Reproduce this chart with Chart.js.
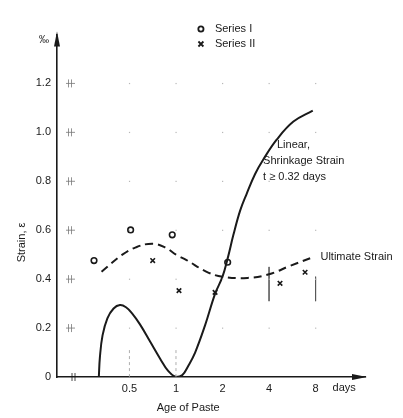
<!DOCTYPE html>
<html>
<head>
<meta charset="utf-8">
<script src="https://cdn.jsdelivr.net/npm/chart.js@4.4.1/dist/chart.umd.min.js"></script>
<style>
  body { margin: 0; background: #fff; }
  #wrap { width: 403px; height: 418px; }
</style>
</head>
<body>
<div id="wrap"><canvas id="grafico" width="403" height="418"></canvas></div>
<script>
// ticks do eixo x (dias, escala log2)
const diasTicks = [0.5, 1, 2, 4, 8];
const strainTicks = [0, 0.2, 0.4, 0.6, 0.8, 1.0, 1.2];

// curva continua - Linear Shrinkage Strain
const linearT = [0.317, 0.322, 0.335, 0.36, 0.395, 0.434, 0.475, 0.52, 0.585, 0.68, 0.79, 0.89, 1.0, 1.1, 1.2, 1.33, 1.54, 1.79, 2.0, 2.17, 2.35, 2.6, 2.87, 3.25, 3.68, 4.48, 5.75, 7.67];
const linearS = [0, 0.08, 0.17, 0.24, 0.28, 0.294, 0.285, 0.26, 0.215, 0.145, 0.075, 0.025, 0, 0.008, 0.045, 0.10, 0.21, 0.34, 0.41, 0.49, 0.58, 0.68, 0.75, 0.83, 0.89, 0.97, 1.044, 1.089];

// curva tracejada - Ultimate Strain
const ultT = [0.33, 0.45, 0.55, 0.70, 0.85, 1.0, 1.17, 1.58, 2.0, 2.9, 4.0, 5.5, 7.7];
const ultS = [0.43, 0.50, 0.53, 0.545, 0.53, 0.50, 0.478, 0.43, 0.41, 0.405, 0.42, 0.455, 0.49];

// pontos medidos
const serie1T = [0.295, 0.509, 0.946, 2.16];
const serie1S = [0.476, 0.601, 0.581, 0.469];
const serie2T = [0.707, 1.046, 1.79, 4.71, 6.84];
const serie2S = [0.476, 0.353, 0.346, 0.383, 0.428];

// pequenos tracos verticais (faixa) em 4 e 8 dias
const faixaT = [4, 4, null, 8, 8];
const faixaS = [0.45, 0.31, null, 0.41, 0.31];

function juntar(xs, ys) {
    let out = [];
    for (let i = 0; i < xs.length; i++) {
        out.push({ x: xs[i], y: ys[i] });
    }
    return out;
}

const fonte = '"Liberation Sans", "DejaVu Sans", sans-serif';
const tinta = '#1a1a1a';

// desenha setas, marcas, textos e legenda
const extras = {
    id: 'extras',
    afterDraw(chart) {
        const ctx = chart.ctx;
        const xs = chart.scales.x;
        const ys = chart.scales.y;
        const area = chart.chartArea;
        ctx.save();

        // pontinhos da grade
        ctx.fillStyle = '#b8b8b8';
        for (const t of diasTicks) {
            for (const s of strainTicks) {
                if (s == 0) continue;
                ctx.fillRect(xs.getPixelForValue(t) - 0.5, ys.getPixelForValue(s) - 0.5, 1.2, 1.2);
            }
        }

        // marcas de quebra perto do eixo y
        ctx.strokeStyle = '#777';
        ctx.lineWidth = 0.8;
        const xq = area.left + 13;
        for (const s of strainTicks) {
            if (s == 0) continue;
            const py = ys.getPixelForValue(s);
            ctx.beginPath();
            ctx.moveTo(xq - 1.5, py - 4); ctx.lineTo(xq - 1.5, py + 4);
            ctx.moveTo(xq + 1.5, py - 4); ctx.lineTo(xq + 1.5, py + 4);
            ctx.moveTo(xq - 4, py); ctx.lineTo(xq + 5, py);
            ctx.stroke();
        }
        // quebra no eixo x
        ctx.strokeStyle = tinta;
        ctx.beginPath();
        ctx.moveTo(area.left + 15, area.bottom - 4); ctx.lineTo(area.left + 15, area.bottom + 4);
        ctx.moveTo(area.left + 18, area.bottom - 4); ctx.lineTo(area.left + 18, area.bottom + 4);
        ctx.stroke();

        // tracejado vertical em 0.5 e 1
        ctx.strokeStyle = '#999';
        ctx.setLineDash([3, 3]);
        for (const t of [0.5, 1]) {
            const px = xs.getPixelForValue(t);
            ctx.beginPath();
            ctx.moveTo(px, ys.getPixelForValue(0.11));
            ctx.lineTo(px, area.bottom);
            ctx.stroke();
        }
        ctx.setLineDash([]);

        // setas dos eixos
        ctx.fillStyle = tinta;
        ctx.beginPath();
        ctx.moveTo(area.left, area.top - 3);
        ctx.lineTo(area.left - 3, area.top + 12);
        ctx.lineTo(area.left + 3, area.top + 12);
        ctx.closePath();
        ctx.fill();
        ctx.beginPath();
        ctx.moveTo(area.right + 2, area.bottom);
        ctx.lineTo(area.right - 13, area.bottom - 3);
        ctx.lineTo(area.right - 13, area.bottom + 3);
        ctx.closePath();
        ctx.fill();

        // textos
        ctx.fillStyle = tinta;
        ctx.textBaseline = 'middle';
        ctx.font = '10px ' + fonte;
        ctx.textAlign = 'right';
        ctx.fillText('‰', area.left - 8, area.top + 6);

        ctx.font = '11px ' + fonte;
        ctx.textAlign = 'left';
        ctx.fillText('days', xs.getPixelForValue(8) + 17, area.bottom + 11);
        ctx.textAlign = 'center';
        ctx.fillText('Age of Paste', xs.getPixelForValue(1.2), area.bottom + 31);

        ctx.save();
        ctx.translate(22, ys.getPixelForValue(0.55));
        ctx.rotate(-Math.PI / 2);
        ctx.fillText('Strain, ε', 0, 0);
        ctx.restore();

        ctx.textAlign = 'left';
        ctx.fillText('Linear,', xs.getPixelForValue(4.5), ys.getPixelForValue(0.95));
        ctx.fillText('Shrinkage Strain', xs.getPixelForValue(3.66), ys.getPixelForValue(0.883));
        ctx.fillText('t ≥ 0.32 days', xs.getPixelForValue(3.66), ys.getPixelForValue(0.818));
        ctx.fillText('Ultimate Strain', xs.getPixelForValue(8.6), ys.getPixelForValue(0.49));

        // legenda
        const lx = xs.getPixelForValue(1.45);
        ctx.strokeStyle = tinta;
        ctx.lineWidth = 1.8;
        ctx.beginPath();
        ctx.arc(lx, 29, 2.6, 0, Math.PI * 2);
        ctx.stroke();
        ctx.beginPath();
        ctx.moveTo(lx - 2.5, 44 - 2.5); ctx.lineTo(lx + 2.5, 44 + 2.5);
        ctx.moveTo(lx + 2.5, 44 - 2.5); ctx.lineTo(lx - 2.5, 44 + 2.5);
        ctx.stroke();
        ctx.fillText('Series I', lx + 14, 29);
        ctx.fillText('Series II', lx + 14, 44);

        ctx.restore();
    }
};

const config = {
    type: 'scatter',
    data: {
        datasets: [
            {
                label: 'Linear Shrinkage Strain',
                data: juntar(linearT, linearS),
                showLine: true,
                borderColor: tinta,
                borderWidth: 2,
                pointRadius: 0,
                tension: 0.4
            },
            {
                label: 'Ultimate Strain',
                data: juntar(ultT, ultS),
                showLine: true,
                borderColor: tinta,
                borderWidth: 2,
                borderDash: [8, 5],
                pointRadius: 0,
                tension: 0.4
            },
            {
                label: 'faixa',
                data: juntar(faixaT, faixaS),
                showLine: true,
                spanGaps: false,
                borderColor: '#555',
                borderWidth: 0.8,
                pointRadius: 0
            },
            {
                label: 'Series I',
                data: juntar(serie1T, serie1S),
                pointStyle: 'circle',
                pointRadius: 2.8,
                pointBorderWidth: 1.6,
                borderColor: tinta,
                backgroundColor: 'rgba(0,0,0,0)'
            },
            {
                label: 'Series II',
                data: juntar(serie2T, serie2S),
                pointStyle: 'crossRot',
                pointRadius: 3.2,
                pointBorderWidth: 1.6,
                borderColor: tinta
            }
        ]
    },
    options: {
        responsive: false,
        animation: false,
        layout: { padding: { left: 0, right: 38, top: 34.5, bottom: 0 } },
        plugins: {
            legend: { display: false },
            tooltip: { enabled: false }
        },
        scales: {
            x: {
                type: 'logarithmic',
                min: 0.17,
                max: 16.7,
                afterBuildTicks: (s) => { s.ticks = diasTicks.map(v => ({ value: v })); },
                afterFit: (s) => { s.height = 41; },
                ticks: {
                    color: tinta,
                    font: { family: fonte, size: 11 },
                    padding: 5,
                    maxRotation: 0,
                    callback: (v) => String(v)
                },
                grid: { display: false, drawTicks: false },
                border: { display: true, color: tinta, width: 1.6 }
            },
            y: {
                type: 'linear',
                min: 0,
                max: 1.4,
                afterBuildTicks: (s) => { s.ticks = strainTicks.map(v => ({ value: v })); },
                afterFit: (s) => { s.width = 57; },
                ticks: {
                    color: tinta,
                    font: { family: fonte, size: 11 },
                    padding: 6,
                    callback: (v) => v == 0 ? '0' : v.toFixed(1)
                },
                grid: { display: false, drawTicks: false },
                border: { display: true, color: tinta, width: 1.6 }
            }
        }
    },
    plugins: [extras]
};

let grafico = new Chart(document.getElementById('grafico'), config);
</script>
</body>
</html>
